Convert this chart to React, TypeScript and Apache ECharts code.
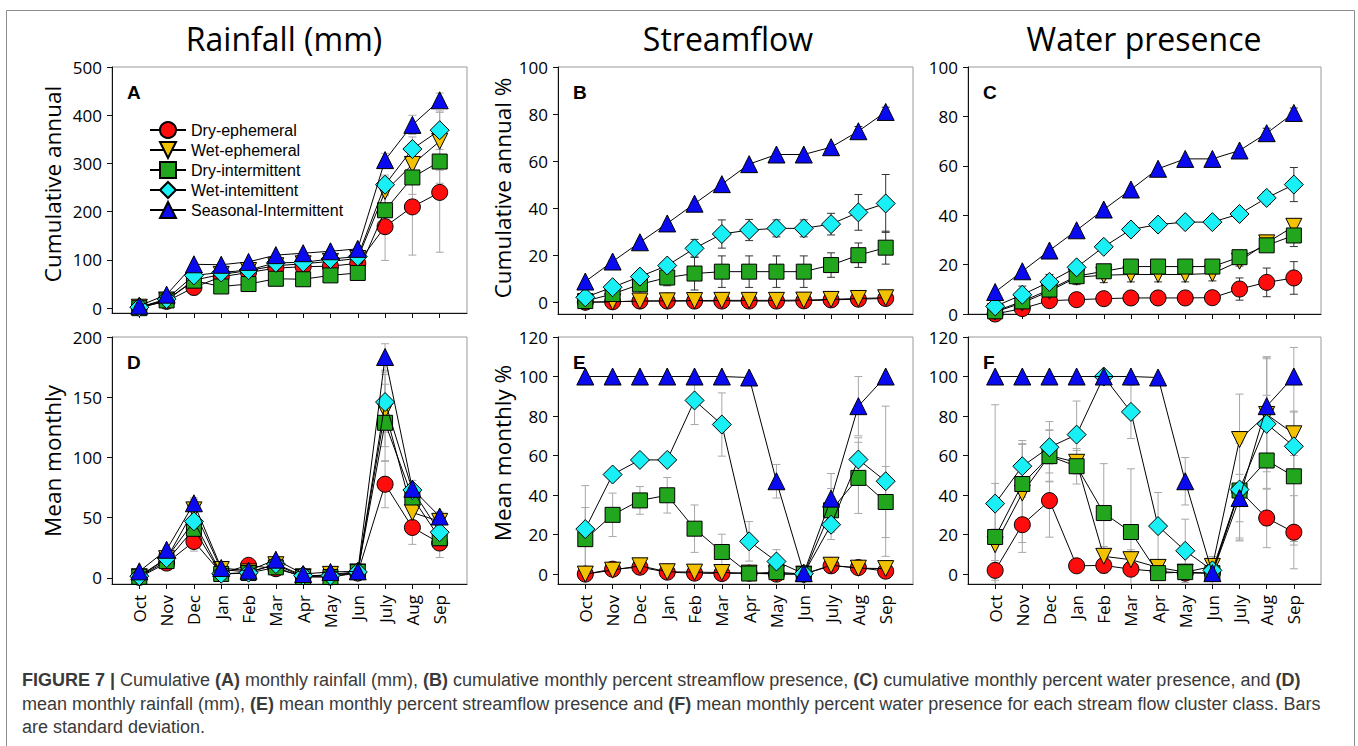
import React, { useEffect, useRef } from 'react';
import * as echarts from 'echarts';

// ---- categories ----
const MONTHS = ['Oct', 'Nov', 'Dec', 'Jan', 'Feb', 'Mar', 'Apr', 'May', 'Jun', 'July', 'Aug', 'Sep'];
const CLASSES = ['Dry-ephemeral', 'Wet-ephemeral', 'Dry-intermittent', 'Wet-intemittent', 'Seasonal-Intermittent'];

// ---- A: cumulative annual rainfall (mm) ----
const aDryEph = [2, 14, 43, 65, 74, 83, 86, 87, 93, 169, 210, 240];
const aDryEphSd = [2, 4, 16, 13, 12, 12, 12, 12, 12, 70, 100, 124];
const aWetEph = [2, 17, 58, 70, 78, 88, 92, 97, 103, 242, 298, 346];
const aWetEphSd = [2, 4, 10, 10, 10, 10, 10, 10, 10, 30, 35, 60];
const aDryInt = [0, 16, 57, 45, 50, 61, 60, 68, 73, 203, 271, 304];
const aDryIntSd = [1, 3, 10, 8, 8, 8, 8, 8, 8, 30, 35, 45];
const aWetInt = [2, 19, 68, 74, 79, 94, 95, 102, 107, 256, 330, 369];
const aWetIntSd = [2, 3, 8, 8, 8, 8, 8, 8, 8, 20, 25, 40];
const aSeasonal = [5, 28, 91, 90, 96, 110, 114, 118, 123, 307, 380, 431];
const aSeasonalSd = [2, 3, 4, 4, 4, 4, 4, 4, 4, 14, 20, 15];

// ---- B: cumulative annual % streamflow ----
const bDryEph = [0, 0.2, 0.5, 0.5, 0.5, 0.5, 0.5, 0.5, 0.6, 1.0, 1.3, 1.6];
const bDryEphSd = [0, 0.2, 0.3, 0.3, 0.3, 0.3, 0.3, 0.3, 0.3, 0.4, 0.5, 0.6];
const bWetEph = [0, 0.2, 0.5, 0.6, 0.7, 0.8, 0.8, 0.8, 0.9, 1.2, 1.6, 1.9];
const bWetEphSd = [0, 0.2, 0.3, 0.3, 0.3, 0.3, 0.3, 0.3, 0.3, 0.4, 0.5, 0.6];
const bDryInt = [0.5, 3.5, 7.6, 10.5, 12.2, 13, 13, 13, 13, 15.8, 20, 23.2];
const bDryIntSd = [0.5, 1.5, 2.5, 3.5, 7, 6.7, 6.7, 6.7, 6.7, 5.2, 5.2, 7];
const bWetInt = [2.1, 6.4, 10.9, 15.6, 22.9, 29, 30.7, 31.4, 31.4, 33.2, 38.2, 42];
const bWetIntSd = [1, 1.5, 1.5, 2, 3.8, 6, 4.5, 3.6, 3.6, 4.6, 7.6, 12.3];
const bSeasonal = [8.8, 17.3, 25.5, 33.5, 41.9, 50.2, 58.7, 62.8, 62.8, 65.9, 72.7, 80.9];
const bSeasonalSd = [0.5, 0.5, 0.5, 0.5, 0.5, 0.5, 0.5, 0.5, 0.5, 0.8, 2, 2];

// ---- C: cumulative annual % water presence ----
const cDryEph = [0, 2.2, 5.4, 5.8, 6.2, 6.5, 6.5, 6.5, 6.6, 10.1, 12.8, 14.6];
const cDryEphSd = [0.5, 1.2, 1.5, 2.5, 2.5, 2.5, 2.5, 2.5, 2.5, 4.5, 5.8, 6.6];
const cWetEph = [0.8, 4.5, 9.2, 14.9, 15.7, 16, 16, 16, 16.4, 21.4, 28.8, 35.5];
const cWetEphSd = [0.5, 1.5, 2.5, 3, 3, 3, 3, 3, 3, 2, 1.5, 1.5];
const cDryInt = [1.1, 5.1, 9.9, 15.3, 17.3, 19.2, 19.2, 19.2, 19.2, 23, 27.8, 31.8];
const cDryIntSd = [0.5, 1.5, 2, 2, 2, 1.5, 1.5, 1.5, 1.5, 1.5, 2, 4.5];
const cWetInt = [3.1, 7.8, 13, 18.9, 27.2, 34.2, 36.2, 37.2, 37.2, 40.5, 47, 52.4];
const cWetIntSd = [1, 3.5, 3, 2, 1.5, 2.5, 1.5, 1, 1, 1, 2.5, 6.9];
const cSeasonal = [8.9, 17.3, 25.7, 33.9, 42.3, 50.4, 58.8, 62.8, 62.8, 66.2, 73.2, 81.4];
const cSeasonalSd = [0.5, 0.5, 0.5, 0.5, 0.5, 0.5, 0.5, 0.5, 0.5, 0.5, 2, 2];

// ---- D: mean monthly rainfall (mm) ----
const dDryEph = [0.5, 12.4, 30.3, 4, 10.5, 7.7, 1.4, 0.8, 4.1, 77.8, 41.9, 29];
const dDryEphSd = [0.5, 2, 8, 2, 3, 3, 1, 1, 2, 19.5, 14, 12];
const dWetEph = [1, 16, 56.5, 7, 5, 11, 1, 3, 5, 139, 54.3, 47];
const dWetEphSd = [1, 3, 10, 3, 2, 3, 1, 1, 2, 30, 8, 8];
const dDryInt = [1, 14, 40.8, 3.3, 4.1, 8.8, 0.8, 0.8, 5, 128.8, 66.8, 33];
const dDryIntSd = [1, 3, 8, 2, 2, 3, 1, 1, 2, 32, 10, 8];
const dWetInt = [1.5, 16.5, 47, 3.5, 4.4, 11.6, 2, 2, 5, 146, 73, 38];
const dWetIntSd = [1, 3, 8, 2, 2, 3, 1, 1, 2, 25, 8, 8];
const dSeasonal = [5.5, 23.4, 62, 8.3, 6, 15.2, 3.3, 5, 5.5, 183.4, 74, 51];
const dSeasonalSd = [1, 2, 3, 2, 2, 2, 1, 1, 1, 11, 3, 3];

// ---- E: mean monthly % streamflow ----
const eDryEph = [0, 2.5, 3.5, 1, 0.5, 0.3, 0.5, 0, 0, 4.2, 3.3, 1.5];
const eDryEphSd = [0.5, 1, 1, 0.5, 0.5, 0.5, 0.5, 0, 0, 1, 1, 1];
const eWetEph = [0, 2, 4.2, 1.2, 1, 0.8, 0.5, 0.2, 0, 4.5, 3, 2.8];
const eWetEphSd = [0.5, 1, 1, 0.5, 0.5, 0.5, 0.5, 0.2, 0, 1, 1, 1];
const eDryInt = [17.7, 30, 37.3, 39.9, 23, 11.2, 0.3, 1, 0, 32.3, 48.7, 36.5];
const eDryIntSd = [16, 11, 7, 9, 12, 9, 0.5, 1, 0, 11, 18, 18];
const eWetInt = [22.8, 50.4, 57.8, 57.8, 87.9, 75.7, 16.6, 6.4, 0.2, 25, 58, 47];
const eWetIntSd = [22, 0, 0, 0, 12.2, 16, 10, 6, 0, 7.5, 11, 38];
const eSeasonal = [100, 100, 100, 100, 100, 100, 99.5, 47, 0.5, 38.2, 85, 100];
const eSeasonalSd = [0, 0, 0, 0, 0, 0, 0, 8.5, 0, 12.7, 15, 0];

// ---- F: mean monthly % water presence ----
const fDryEph = [1.9, 25, 37.2, 4.2, 4.4, 2.5, 1.4, 0.5, 0.5, 42.3, 28.4, 21.2];
const fDryEphSd = [5, 14, 18.5, 2, 4, 3, 1, 1, 1, 25, 15, 18.5];
const fWetEph = [14.9, 41, 60, 56.6, 9, 7.3, 3.4, 1, 3.9, 68.1, 80.8, 71];
const fWetEphSd = [31, 25, 13, 6, 5, 5, 3, 1, 3, 23, 29, 11];
const fDryInt = [18.8, 45.6, 59.7, 54.6, 30.9, 21.3, 0.5, 1, 0.5, 42.3, 57.5, 49.5];
const fDryIntSd = [4, 20, 13, 9, 25, 32, 1, 1, 1, 24, 33, 33];
const fWetInt = [35.7, 54.6, 64.2, 70.6, 100, 82.1, 24.3, 11.8, 1.9, 42.8, 76, 64.7];
const fWetIntSd = [50, 13, 13, 17, 0, 13.5, 17, 16, 7, 26, 33, 50];
const fSeasonal = [100, 100, 100, 100, 100, 100, 99.5, 47, 0.5, 38.5, 85, 100];
const fSeasonalSd = [0, 0, 0, 0, 0, 0, 0, 12, 0, 12, 25, 0];

// ---- axis tick values ----
const TICKS_RAIN_CUM = [0, 100, 200, 300, 400, 500];
const TICKS_PCT_CUM = [0, 20, 40, 60, 80, 100];
const TICKS_RAIN_MEAN = [0, 50, 100, 150, 200];
const TICKS_PCT_MEAN = [0, 20, 40, 60, 80, 100, 120];
const MONTH_POS = MONTHS.map((_, i) => i);

// marker styles per flow class
const CLASS_STYLE = [
  { symbol: 'circle', size: 16, rotate: 0, color: '#ff0d0d' },
  { symbol: 'triangle', size: 16, rotate: 180, color: '#f2c200' },
  { symbol: 'rect', size: 15, rotate: 0, color: '#22a61e' },
  { symbol: 'diamond', size: 19, rotate: 0, color: '#19f0f5' },
  { symbol: 'triangle', size: 17, rotate: 0, color: '#0a0af0' },
];

const TICK_FONT = 'Open Sans';

const PANELS = [
  {
    letter: 'A', grid: { left: 112, top: 67, width: 355, height: 246 },
    yMin: -10, yMax: 500, ticks: TICKS_RAIN_CUM, months: false, errColor: '#a8a8a8',
    data: [[aDryEph, aDryEphSd], [aWetEph, aWetEphSd], [aDryInt, aDryIntSd], [aWetInt, aWetIntSd], [aSeasonal, aSeasonalSd]],
  },
  {
    letter: 'B', grid: { left: 558, top: 67, width: 355, height: 247 },
    yMin: -5, yMax: 100, ticks: TICKS_PCT_CUM, months: false, errColor: '#333333',
    data: [[bDryEph, bDryEphSd], [bWetEph, bWetEphSd], [bDryInt, bDryIntSd], [bWetInt, bWetIntSd], [bSeasonal, bSeasonalSd]],
  },
  {
    letter: 'C', grid: { left: 968, top: 67, width: 353, height: 247 },
    yMin: 0, yMax: 100, ticks: TICKS_PCT_CUM, months: false, errColor: '#333333',
    data: [[cDryEph, cDryEphSd], [cWetEph, cWetEphSd], [cDryInt, cDryIntSd], [cWetInt, cWetIntSd], [cSeasonal, cSeasonalSd]],
  },
  {
    letter: 'D', grid: { left: 112, top: 337, width: 355, height: 247 },
    yMin: -5, yMax: 200, ticks: TICKS_RAIN_MEAN, months: true, errColor: '#a8a8a8',
    data: [[dDryEph, dDryEphSd], [dWetEph, dWetEphSd], [dDryInt, dDryIntSd], [dWetInt, dWetIntSd], [dSeasonal, dSeasonalSd]],
  },
  {
    letter: 'E', grid: { left: 558, top: 337, width: 355, height: 247 },
    yMin: -5, yMax: 120, ticks: TICKS_PCT_MEAN, months: true, errColor: '#a8a8a8',
    data: [[eDryEph, eDryEphSd], [eWetEph, eWetEphSd], [eDryInt, eDryIntSd], [eWetInt, eWetIntSd], [eSeasonal, eSeasonalSd]],
  },
  {
    letter: 'F', grid: { left: 968, top: 337, width: 353, height: 247 },
    yMin: -5, yMax: 120, ticks: TICKS_PCT_MEAN, months: true, errColor: '#a8a8a8',
    data: [[fDryEph, fDryEphSd], [fWetEph, fWetEphSd], [fDryInt, fDryIntSd], [fWetInt, fWetIntSd], [fSeasonal, fSeasonalSd]],
  },
];

const CAPTION_LINES = [
  '{b|FIGURE 7 |} Cumulative {b|(A)} monthly rainfall (mm), {b|(B)} cumulative monthly percent streamflow presence, {b|(C)} cumulative monthly percent water presence, and {b|(D)}',
  'mean monthly rainfall (mm), {b|(E)} mean monthly percent streamflow presence and {b|(F)} mean monthly percent water presence for each stream flow cluster class. Bars',
  'are standard deviation.',
];

function errorBarRenderer(color: string) {
  return (params: any, api: any) => {
    const x = api.value(0);
    const y = api.value(1);
    const s = api.value(2);
    if (!s) return null;
    const top = api.coord([x, y + s]);
    const bot = api.coord([x, y - s]);
    const hw = 4;
    const style = { stroke: color, lineWidth: 1 };
    return {
      type: 'group',
      children: [
        { type: 'line', shape: { x1: top[0], y1: top[1], x2: bot[0], y2: bot[1] }, style },
        { type: 'line', shape: { x1: top[0] - hw, y1: top[1], x2: top[0] + hw, y2: top[1] }, style },
        { type: 'line', shape: { x1: bot[0] - hw, y1: bot[1], x2: bot[0] + hw, y2: bot[1] }, style },
      ],
    };
  };
}

function buildOption() {
  const grid: any[] = [];
  const xAxis: any[] = [];
  const yAxis: any[] = [];
  const series: any[] = [];
  const graphic: any[] = [];

  PANELS.forEach((p, i) => {
    grid.push({ ...p.grid, show: true, borderColor: '#9a9a9a', borderWidth: 1, backgroundColor: 'transparent' });
    xAxis.push({
      type: 'value', gridIndex: i, min: -1, max: 12, interval: 1,
      axisLine: { show: true, onZero: false, lineStyle: { color: '#111', width: 1 } },
      axisTick: { show: true, length: 5, customValues: MONTH_POS, lineStyle: { color: '#111' } },
      axisLabel: {
        show: p.months, customValues: MONTH_POS, rotate: 90, margin: 11,
        formatter: (v: number) => MONTHS[v] ?? '',
        fontFamily: TICK_FONT, fontSize: 17, color: '#000',
      },
      splitLine: { show: false },
    });
    yAxis.push({
      type: 'value', gridIndex: i, min: p.yMin, max: p.yMax,
      axisLine: { show: true, onZero: false, lineStyle: { color: '#111', width: 1 } },
      axisTick: { show: true, length: 5, customValues: p.ticks, lineStyle: { color: '#111' } },
      axisLabel: { customValues: p.ticks, margin: 10, fontFamily: TICK_FONT, fontSize: 17, color: '#000' },
      splitLine: { show: false },
    });

    p.data.forEach(([vals, sds]) => {
      series.push({
        type: 'custom', xAxisIndex: i, yAxisIndex: i, z: 2, silent: true, clip: true,
        renderItem: errorBarRenderer(p.errColor),
        encode: { x: 0, y: 1 },
        data: vals.map((v, j) => [j, v, sds[j]]),
      });
    });
    p.data.forEach(([vals], k) => {
      const st = CLASS_STYLE[k];
      series.push({
        type: 'line', name: CLASSES[k], xAxisIndex: i, yAxisIndex: i, z: 3 + k, silent: true,
        data: vals.map((v, j) => [j, v]),
        symbol: st.symbol, symbolSize: st.size, symbolRotate: st.rotate,
        lineStyle: { color: '#000', width: 1 },
        itemStyle: { color: st.color, borderColor: '#000', borderWidth: 1, opacity: 1 },
        emphasis: { disabled: true },
      });
    });

    graphic.push({
      type: 'text', x: p.grid.left + 15, y: p.grid.top + 25,
      style: { text: p.letter, fontFamily: 'Liberation Sans', fontWeight: 'bold', fontSize: 19, fill: '#000', textAlign: 'left', textVerticalAlign: 'middle' },
    });
  });

  // column headings
  [['Rainfall (mm)', 284], ['Streamflow', 728], ['Water presence', 1144]].forEach(([t, x]) => {
    graphic.push({
      type: 'text', x, y: 38,
      style: { text: t, fontFamily: 'Open Sans', fontSize: 32, fill: '#000', textAlign: 'center', textVerticalAlign: 'middle' },
    });
  });

  // y-axis names
  [['Cumulative annual', 52, 184], ['Mean monthly', 52, 461], ['Cumulative annual %', 502, 188], ['Mean monthly %', 502, 453]].forEach(([t, x, y]) => {
    graphic.push({
      type: 'text', x, y, rotation: Math.PI / 2,
      style: { text: t, fontFamily: 'Open Sans', fontSize: 22.5, fill: '#000', textAlign: 'center', textVerticalAlign: 'middle' },
    });
  });

  // caption
  CAPTION_LINES.forEach((line, li) => {
    graphic.push({
      type: 'text', x: 22, y: 680 + li * 23.5,
      style: {
        text: line, fontFamily: 'Liberation Sans', fontSize: 18, fill: '#3a3a3a',
        textAlign: 'left', textVerticalAlign: 'middle',
        rich: { b: { fontFamily: 'Liberation Sans', fontSize: 18, fontWeight: 'bold', fill: '#3a3a3a' } },
      },
    });
  });

  // figure frame
  graphic.push({
    type: 'rect', shape: { x: 6.5, y: 10.5, width: 1348, height: 800 },
    style: { fill: 'none', stroke: '#8c8c8c', lineWidth: 1 }, silent: true,
  });

  return {
    animation: false,
    backgroundColor: '#fff',
    grid, xAxis, yAxis, series, graphic,
    legend: {
      show: true, orient: 'vertical', left: 144, top: 116,
      data: CLASSES, itemWidth: 36, itemHeight: 20, itemGap: 2,
      selectedMode: false,
      textStyle: { fontFamily: 'Liberation Sans', fontSize: 16, color: '#000' },
    },
  };
}

export default function App() {
  const ref = useRef<HTMLDivElement>(null);
  useEffect(() => {
    if (!ref.current) return;
    const chart = echarts.init(ref.current, undefined, { renderer: 'svg' });
    chart.setOption(buildOption() as any);
    return () => chart.dispose();
  }, []);
  return <div ref={ref} style={{ position: 'fixed', left: 0, top: 0, width: 1358, height: 746 }} />;
}
